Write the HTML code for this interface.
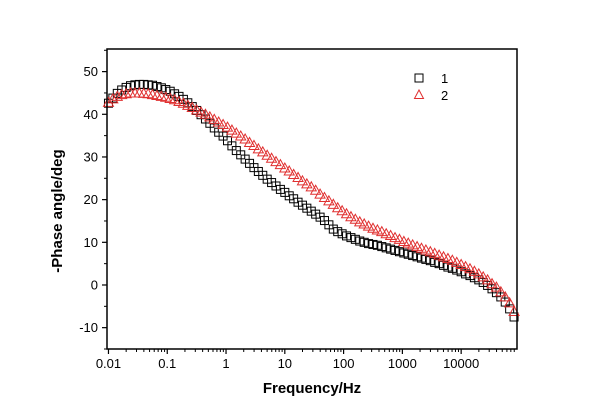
<!DOCTYPE html>
<html><head><meta charset="utf-8"><style>
html,body{margin:0;padding:0;background:#fff}
svg{display:block;font-family:"Liberation Sans",Arial,sans-serif}
</style></head><body>
<svg id="chart" width="600" height="420" viewBox="0 0 600 420">
<rect x="0" y="0" width="600" height="420" fill="#fff"/>
<g id="marks1"></g>
<g id="marks2"></g>
<g id="axes"></g>
<text x="62" y="211" transform="rotate(-90 62 211)" text-anchor="middle" font-size="15" font-weight="bold">-Phase angle/deg</text>
<text x="312" y="393" text-anchor="middle" font-size="15" font-weight="bold">Frequency/Hz</text>
<g>
<rect x="415" y="74" width="8" height="8" fill="none" stroke="#000" stroke-width="1"/>
<text x="441" y="83" font-size="13">1</text>
<polygon points="419,90 414.5,98.5 423.5,98.5" fill="none" stroke="#e03030" stroke-width="1"/>
<text x="441" y="100" font-size="13">2</text>
</g>
</svg>
<script>
const logFreqs = [-2.000,-1.925,-1.850,-1.775,-1.700,-1.625,-1.550,-1.475,-1.400,-1.325,-1.250,-1.175,-1.100,-1.025,-0.950,-0.875,-0.800,-0.725,-0.650,-0.575,-0.500,-0.425,-0.350,-0.275,-0.200,-0.125,-0.050,0.025,0.100,0.175,0.250,0.325,0.400,0.475,0.550,0.625,0.700,0.775,0.850,0.925,1.000,1.075,1.150,1.225,1.300,1.375,1.450,1.525,1.600,1.675,1.750,1.825,1.900,1.975,2.050,2.125,2.200,2.275,2.350,2.425,2.500,2.575,2.650,2.725,2.800,2.875,2.950,3.025,3.100,3.175,3.250,3.325,3.400,3.475,3.550,3.625,3.700,3.775,3.850,3.925,4.000,4.075,4.150,4.225,4.300,4.375,4.450,4.525,4.600,4.675,4.750,4.825,4.900];
const series1 = [42.6,43.8,44.9,45.7,46.3,46.7,46.9,47.0,47.0,46.9,46.8,46.5,46.2,45.8,45.4,44.8,44.2,43.5,42.7,41.8,40.9,39.9,38.9,37.9,36.8,35.8,34.9,33.8,32.6,31.5,30.5,29.5,28.5,27.5,26.6,25.7,24.8,24.0,23.2,22.4,21.7,20.9,20.2,19.4,18.7,18.0,17.3,16.6,15.9,15.1,14.1,13.1,12.5,12.0,11.5,11.1,10.7,10.3,10.0,9.7,9.5,9.3,9.0,8.7,8.4,8.1,7.8,7.5,7.2,6.9,6.6,6.3,6.0,5.7,5.3,5.0,4.6,4.2,3.9,3.5,3.1,2.6,2.2,1.7,1.2,0.6,-0.1,-0.9,-1.8,-2.8,-4.0,-5.6,-7.5];
const series2 = [42.8,43.6,44.2,44.6,44.8,45.0,45.0,45.0,44.9,44.8,44.6,44.4,44.2,44.0,43.7,43.4,43.0,42.6,42.1,41.6,41.0,40.5,40.0,39.4,38.8,38.2,37.6,37.0,36.3,35.6,34.9,34.2,33.4,32.7,31.9,31.2,30.4,29.7,28.9,28.2,27.4,26.7,25.9,25.2,24.4,23.7,23.0,22.2,21.3,20.5,19.7,18.9,18.1,17.4,16.7,16.0,15.4,14.8,14.3,13.8,13.3,12.9,12.5,12.0,11.6,11.1,10.7,10.2,9.8,9.4,9.0,8.6,8.2,7.8,7.4,7.0,6.6,6.2,5.8,5.3,4.8,4.3,3.8,3.2,2.6,1.9,1.2,0.3,-0.5,-1.6,-2.8,-4.2,-6.2];
const xTickExps = [-2,-1,0,1,2,3,4];
const xTickLabels = ["0.01","0.1","1","10","100","1000","10000"];
const yTicks = [-10,0,10,20,30,40,50];

const NS="http://www.w3.org/2000/svg";
const L=107,R=517,T=49,B=349;
const xMin=-2.025, xMax=4.95, yMin=-15, yMax=55.3;
function X(e){return L+(e-xMin)/(xMax-xMin)*(R-L);}
function Y(v){return B-(v-yMin)/(yMax-yMin)*(B-T);}
function mk(tag,attrs,parent){const el=document.createElementNS(NS,tag);for(const k in attrs)el.setAttribute(k,attrs[k]);parent.appendChild(el);return el;}

const g1=document.getElementById('marks1'), g2=document.getElementById('marks2'), ax=document.getElementById('axes');
logFreqs.forEach((e,i)=>{
  const x=X(e), y=Y(series1[i]);
  const r=mk('rect',{x:x-4,y:y-4,width:8,height:8,fill:'none',stroke:'#000','stroke-width':1},g1);
  
  
});
logFreqs.forEach((e,i)=>{
  const x=X(e), y=Y(series2[i]);
  const p=mk('polygon',{points:`${x},${y-5} ${x-5},${y+4} ${x+5},${y+4}`,fill:'none',stroke:'#e03030','stroke-width':1},g2);
  
  
});

const frame=mk('rect',{x:L,y:T,width:R-L,height:B-T,fill:'none',stroke:'#000','stroke-width':1.5},ax);



yTicks.forEach(v=>{
  const y=Y(v);
  mk('line',{x1:L-5,x2:L,y1:y,y2:y,stroke:'#000','stroke-width':1.2},ax);
  mk('line',{x1:L-3,x2:L,y1:Y(v+5),y2:Y(v+5),stroke:'#000','stroke-width':1},ax);
  const t=mk('text',{x:L-9,y:y+4.5,'text-anchor':'end','font-size':13},ax);
  t.textContent=v;
  
  
});
mk('line',{x1:L-3,x2:L,y1:Y(-15),y2:Y(-15),stroke:'#000','stroke-width':1},ax);

xTickExps.forEach((e,i)=>{
  const x=X(e);
  mk('line',{x1:x,x2:x,y1:B,y2:B+5,stroke:'#000','stroke-width':1.2},ax);
  for(let m=2;m<=9;m++){
    const xm=X(e+Math.log10(m));
    if(xm<R) mk('line',{x1:xm,x2:xm,y1:B,y2:B+3,stroke:'#000','stroke-width':1},ax);
  }
  const t=mk('text',{x:x,y:B+19,'text-anchor':'middle','font-size':13},ax);
  t.textContent=xTickLabels[i];
  
  
});
</script>
</body></html>
